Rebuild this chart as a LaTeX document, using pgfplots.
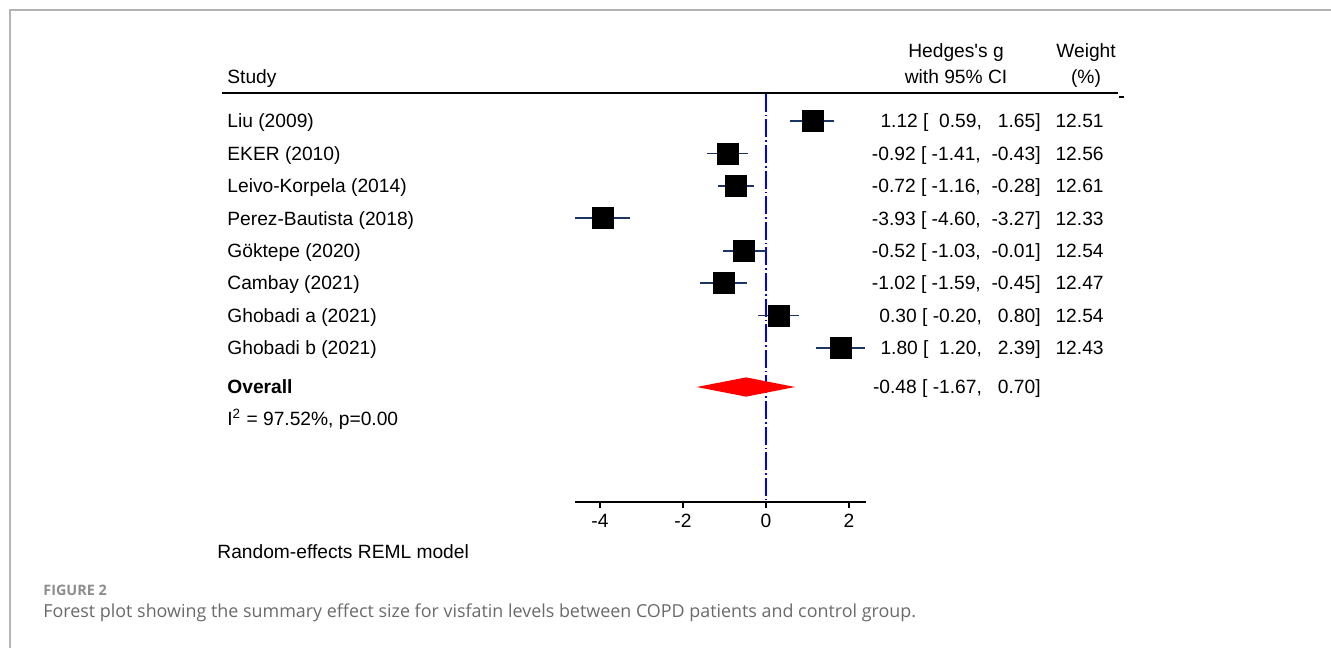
\documentclass[border=0pt]{standalone}
\usepackage{fontspec}
\setmainfont{Liberation Sans}[Ligatures=TeXOff]
\newfontfamily\capfont{Open Sans}
\usepackage{pgfplots}
\usepackage{pgfplotstable}
\pgfplotsset{compat=1.18}
\definecolor{cinavy}{HTML}{1A3563}
\definecolor{framegray}{HTML}{B4B4B4}
\definecolor{capgray}{HTML}{6A6A6A}
\definecolor{figgray}{HTML}{8C8C8C}
\newcommand{\rf}{\fontsize{9.6}{11}\selectfont}

\pgfplotstableread{
row g lo hi w
1 1.12 0.59 1.65 12.51
2 -0.92 -1.41 -0.43 12.56
3 -0.72 -1.16 -0.28 12.61
4 -3.93 -4.60 -3.27 12.33
5 -0.52 -1.03 -0.01 12.54
6 -1.02 -1.59 -0.45 12.47
7 0.30 -0.20 0.80 12.54
8 1.80 1.20 2.39 12.43
}\studies

\begin{document}
\begin{tikzpicture}[x=0.5pt, y=-0.5pt]
\useasboundingbox (0,0) rectangle (1331,648);
% frame
\draw[framegray, line width=1pt] (9.5,648) -- (9.5,9.5) -- (1331,9.5);
\coordinate (axpos) at (575,502);

\begin{axis}[
  at={(axpos)}, anchor=south west,
  scale only axis, width=145.5pt, height=204.5pt,
  xmin=-4.6, xmax=2.41,
  ymin=0.1366, ymax=12.748, y dir=reverse,
  axis x line*=bottom, axis y line=none,
  x axis line style={line width=0.75pt},
  xtick={-4,-2,0,2}, xticklabels={-4,-2,0,2},
  tick align=outside, major tick length=3pt,
  xtick style={line width=0.75pt, black},
  xticklabel style={font=\rf, inner sep=1pt, yshift=-2pt},
  ytick=\empty,
  clip=false,
]
% reference line
\addplot[blue, line width=0.65pt, dash pattern=on 9pt off 1.5pt on 0.8pt off 1.5pt] coordinates {(0,0.16) (0,12.748)};
% studies
\addplot[only marks, mark=square*, mark size=5.25pt, mark options={fill=black, draw=black},
  error bars/.cd, x dir=both, x explicit, error mark=none,
  error bar style={color=cinavy, line width=0.9pt}]
  table[x=g, y=row,
    x error plus expr=\thisrow{hi}-\thisrow{g},
    x error minus expr=\thisrow{g}-\thisrow{lo}] {\studies};
% overall diamond
\addplot[fill=red, draw=none] coordinates {(-1.67,9.202) (-0.48,8.905) (0.70,9.202) (-0.48,9.499)} -- cycle;
\end{axis}

% header
\draw[line width=0.75pt] (222,93) -- (1118,93);
\draw[line width=0.75pt] (1119,97) -- (1124,97);
\begin{scope}[every node/.style={inner sep=0pt, font=\rf}]
\node[anchor=base west] at (227,83.8) {Study};
\node[anchor=base] at (956,57.8) {Hedges's g};
\node[anchor=base] at (956,83.8) {with 95\% CI};
\node[anchor=base] at (1086,57.8) {Weight};
\node[anchor=base] at (1086,83.8) {(\%)};

\foreach \r/\name/\ci/\w in {
  1/Liu (2009)/{1.12 [~~0.59,~~~1.65]}/12.51,
  2/EKER (2010)/{-0.92 [~-1.41,~~-0.43]}/12.56,
  3/Leivo-Korpela (2014)/{-0.72 [~-1.16,~~-0.28]}/12.61,
  4/Perez-Bautista (2018)/{-3.93 [~-4.60,~~-3.27]}/12.33,
  5/Göktepe (2020)/{-0.52 [~-1.03,~~-0.01]}/12.54,
  6/Cambay (2021)/{-1.02 [~-1.59,~~-0.45]}/12.47,
  7/Ghobadi a (2021)/{0.30 [~-0.20,~~~0.80]}/12.54,
  8/Ghobadi b (2021)/{1.80 [~~1.20,~~~2.39]}/12.43}{
  \pgfmathsetmacro{\yb}{121+32.43*(\r-1)+6.8}
  \node[anchor=base west] at (227,\yb) {\name};
  \node[anchor=base east] at (1041,\yb) {\ci};
  \node[anchor=base east] at (1104,\yb) {\w};
}
\node[anchor=base west] at (227,393.8) {\bfseries Overall};
\node[anchor=base east] at (1041,393.8) {-0.48 [~-1.67,~~~0.70]};
\node[anchor=base west] at (227,425.8) {I\textsuperscript{2} = 97.52\%, p=0.00};
\node[anchor=base west] at (217,558.8) {Random-effects REML model};
\end{scope}

% caption
\node[anchor=base west, inner sep=0pt, text=figgray, font=\capfont\bfseries\fontsize{7.2}{9}\selectfont] at (43,595) {FIGURE 2};
\node[anchor=base west, inner sep=0pt, text=capgray, font=\capfont\fontsize{8.95}{10}\selectfont] at (43,617.5) {Forest plot showing the summary effect size for visfatin levels between COPD patients and control group.};
\end{tikzpicture}
\end{document}
